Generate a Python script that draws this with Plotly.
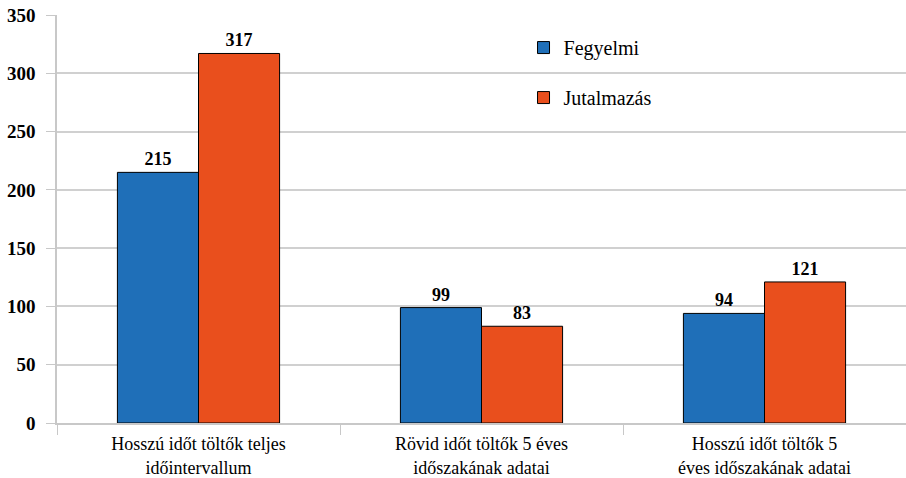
import plotly.graph_objects as go

categories = ["Hosszú időt töltők teljes<br>időintervallum",
              "Rövid időt töltők 5 éves<br>időszakának adatai",
              "Hosszú időt töltők 5<br>éves időszakának adatai"]
fegyelmi = [215, 99, 94]
jutalmazas = [317, 83, 121]
yticks = [0, 50, 100, 150, 200, 250, 300, 350]

SERIF = "Liberation Serif, Times New Roman, DejaVu Serif, serif"

fig = go.Figure()
fig.add_trace(go.Bar(x=categories, y=fegyelmi, name="Fegyelmi",
                     marker=dict(color="#1f6fb8", line=dict(color="black", width=1)),
                     text=fegyelmi, textposition="outside", cliponaxis=False,
                     texttemplate="%{y}",
                     textfont=dict(family=SERIF, size=18, color="black", weight="bold"),
                     legendgroup="a"))
fig.add_trace(go.Bar(x=categories, y=jutalmazas, name="Jutalmazás",
                     marker=dict(color="#e94f1d", line=dict(color="black", width=1)),
                     text=jutalmazas, textposition="outside", cliponaxis=False,
                     texttemplate="%{y}",
                     textfont=dict(family=SERIF, size=18, color="black", weight="bold"),
                     legendgroup="b"))

fig.update_layout(
    width=906, height=478,
    margin=dict(l=57, r=0, t=15, b=55, autoexpand=False),
    plot_bgcolor="white", paper_bgcolor="white",
    barmode="group", bargap=0.427, bargroupgap=0,
    showlegend=True,
    legend=dict(x=0.5495, y=0.968, xanchor="left", yanchor="top",
                font=dict(family=SERIF, size=20, color="black"),
                traceorder="grouped", tracegroupgap=21,
                bgcolor="rgba(0,0,0,0)"),
    font=dict(family=SERIF, color="black"),
)
fig.update_yaxes(range=[0, 350], tickvals=yticks, showgrid=True, gridcolor="#d0d0d0",
                 gridwidth=1.5, showline=True, linecolor="#c8c8c8", linewidth=1.5,
                 ticks="outside", ticklen=9, tickcolor="#c8c8c8", automargin=False,
                 ticklabeloverflow="allow", ticklabelstandoff=7,
                 tickfont=dict(family=SERIF, size=19, color="black", weight="bold"),
                 zeroline=False)
fig.update_xaxes(showline=True, linecolor="#c8c8c8", linewidth=1.5, automargin=False,
                 ticks="outside", ticklen=10, tickcolor="#c8c8c8", tickson="boundaries",
                 ticklabeloverflow="allow", ticklabelstandoff=4,
                 tickfont=dict(family=SERIF, size=18, color="black"))

fig.write_html("out.html", config={"displayModeBar": False},
               post_script="document.body.style.margin='0';document.body.style.overflow='hidden';")
